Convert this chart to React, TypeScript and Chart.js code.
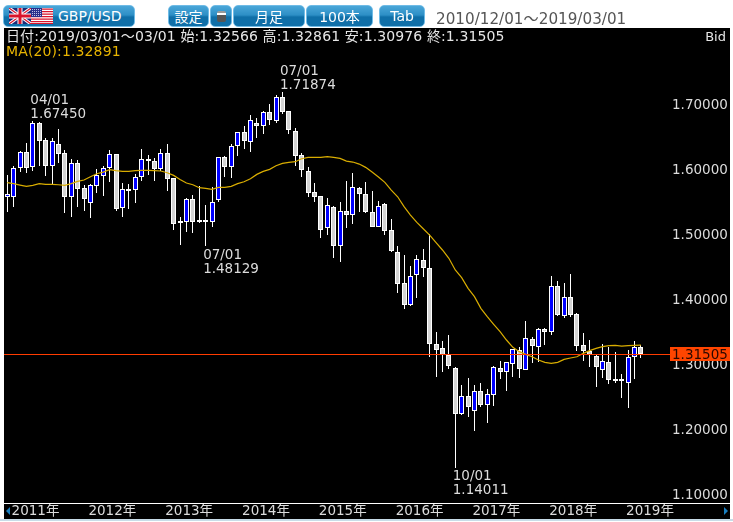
import React, { useEffect, useRef } from "react";
import { Chart, registerables } from "chart.js";

Chart.register(...registerables);

const FONT = '"DejaVu Sans","Noto Sans CJK JP",sans-serif';

const opens = [1.5563,1.5563,1.6010,1.6256,1.6025,1.6702,1.6440,1.6051,1.6379,1.6240,1.5563,1.6086,1.5707,1.5481,1.5743,1.5897,1.6010,1.6225,1.5394,1.5691,1.5671,1.5871,1.6153,1.6117,1.6004,1.6240,1.5856,1.5163,1.5189,1.5532,1.5209,1.5209,1.5189,1.5517,1.6179,1.6025,1.6358,1.6569,1.6410,1.6702,1.6656,1.6871,1.6743,1.7107,1.6887,1.6584,1.6210,1.5963,1.5640,1.5579,1.5086,1.5409,1.4809,1.5348,1.5286,1.5702,1.5610,1.5332,1.5112,1.5456,1.5055,1.4717,1.4240,1.3912,1.4363,1.4594,1.4471,1.3301,1.3240,1.3137,1.2932,1.2234,1.2501,1.2270,1.2578,1.2373,1.2527,1.2932,1.2881,1.3004,1.3209,1.2912,1.3379,1.3266,1.3533,1.3497,1.4195,1.3743,1.4025,1.3764,1.3287,1.3205,1.3123,1.2912,1.3025,1.2769,1.2769,1.2712,1.3102,1.32566];
const highs = [1.5907,1.6051,1.6281,1.6394,1.6745,1.6728,1.6482,1.6471,1.6610,1.6292,1.6158,1.6138,1.5753,1.5768,1.5994,1.6045,1.6297,1.6235,1.5779,1.5763,1.5922,1.6302,1.6210,1.6174,1.6302,1.6379,1.5861,1.5255,1.5558,1.5599,1.5743,1.5440,1.5717,1.6179,1.6199,1.6379,1.6574,1.6666,1.6825,1.6779,1.6897,1.7000,1.7138,1.71874,1.6892,1.6635,1.6251,1.6025,1.5779,1.5584,1.5548,1.5430,1.5497,1.5809,1.5933,1.5727,1.5804,1.5656,1.5502,1.5481,1.5235,1.4815,1.4671,1.4512,1.4676,1.4763,1.5000,1.3486,1.3358,1.3440,1.2958,1.2676,1.2778,1.2676,1.2701,1.2609,1.2968,1.3045,1.3030,1.3230,1.3265,1.3655,1.3410,1.3548,1.3548,1.4354,1.4277,1.4241,1.4385,1.3789,1.3471,1.3369,1.3138,1.3302,1.3256,1.3179,1.2846,1.3215,1.3353,1.32861];
const lows = [1.5343,1.5409,1.5958,1.5933,1.5963,1.6051,1.5897,1.5768,1.6097,1.5327,1.5266,1.5420,1.5358,1.5240,1.5635,1.5589,1.5804,1.5358,1.5266,1.5384,1.5481,1.5820,1.5912,1.5820,1.5974,1.5666,1.5066,1.4830,1.5035,1.5009,1.5163,1.48129,1.5102,1.5497,1.5881,1.5856,1.6199,1.6302,1.6256,1.6471,1.6533,1.6676,1.6702,1.6846,1.6533,1.6051,1.5871,1.5573,1.5486,1.4943,1.4978,1.4635,1.4563,1.5086,1.5158,1.5343,1.5317,1.5102,1.5102,1.4984,1.4727,1.4086,1.3840,1.3891,1.4009,1.4333,1.3112,1.2794,1.2870,1.2917,1.14011,1.2209,1.2188,1.1973,1.2332,1.2096,1.2357,1.2763,1.2588,1.2804,1.2778,1.2901,1.3020,1.3035,1.3292,1.3451,1.3738,1.3713,1.3718,1.3205,1.3051,1.2958,1.2651,1.2779,1.2687,1.2712,1.2471,1.2327,1.2774,1.30976];
const closes = [1.5610,1.6010,1.6256,1.6020,1.6702,1.6435,1.6051,1.6425,1.6235,1.5573,1.6086,1.5697,1.5543,1.5748,1.5902,1.6010,1.6225,1.5389,1.5686,1.5666,1.5871,1.6148,1.6122,1.6004,1.6240,1.5851,1.5158,1.5194,1.5532,1.5189,1.5184,1.5199,1.5486,1.6179,1.6035,1.6348,1.6564,1.6435,1.6748,1.6656,1.6871,1.6759,1.7102,1.6882,1.6605,1.6204,1.5989,1.5635,1.5573,1.5066,1.5440,1.4819,1.5348,1.5286,1.5717,1.5620,1.5343,1.5112,1.5425,1.5050,1.4742,1.4235,1.3912,1.4358,1.4610,1.4481,1.3307,1.3219,1.3137,1.2973,1.2234,1.2501,1.2332,1.2578,1.2363,1.2532,1.2947,1.2881,1.3025,1.3225,1.2927,1.3394,1.3276,1.3533,1.3492,1.4195,1.3759,1.4025,1.3754,1.3282,1.3200,1.3133,1.2958,1.3040,1.2758,1.2748,1.2748,1.3102,1.3256,1.31505];
const ma20 = [1.5789,1.5774,1.5753,1.5733,1.5748,1.5774,1.5763,1.5763,1.5758,1.5748,1.5774,1.5809,1.5830,1.5881,1.5927,1.5953,1.5989,1.5974,1.5963,1.5963,1.5974,1.5979,1.5979,1.5974,1.5969,1.5943,1.5902,1.5840,1.5784,1.5758,1.5712,1.5702,1.5686,1.5717,1.5717,1.5733,1.5774,1.5804,1.5851,1.5917,1.5963,1.5994,1.6051,1.6086,1.6102,1.6112,1.6158,1.6179,1.6179,1.6179,1.6189,1.6179,1.6163,1.6122,1.6107,1.6076,1.6025,1.5953,1.5876,1.5794,1.5676,1.5573,1.5420,1.5291,1.5178,1.5081,1.4984,1.4867,1.4754,1.4626,1.4446,1.4328,1.4164,1.4036,1.3856,1.3728,1.3610,1.3497,1.3369,1.3256,1.3190,1.3148,1.3112,1.3061,1.3025,1.3010,1.3025,1.3071,1.3092,1.3112,1.3164,1.3205,1.3241,1.3266,1.3282,1.3287,1.3276,1.3282,1.3287,1.32891];

const START_YEAR = 2010;
const START_MONTH = 12;
const BLANK_SLOTS = 4;
const months = opens.map((_, i) => {
  const m = START_MONTH - 1 + i;
  return `${START_YEAR + Math.floor(m / 12)}/${String((m % 12) + 1).padStart(2, "0")}`;
});
const categories = [...months, ...Array(BLANK_SLOTS).fill("")];

// extreme callouts: [category, label, value, "high"|"low"]
const callouts: [string, string, number, "high" | "low"][] = [
  ["2011/04", "04/01", 1.6745, "high"],
  ["2014/07", "07/01", 1.71874, "high"],
  ["2013/07", "07/01", 1.48129, "low"],
  ["2016/10", "10/01", 1.14011, "low"],
];

const BLUE = "#0000ff";
const GREY = "#d4d4d4";
const last = closes[closes.length - 1];

const candleSnap = {
  id: "candleSnap",
  beforeDatasetsDraw(chart: any) {
    chart.getSortedVisibleDatasetMetas().forEach((m: any) => {
      if (m.type !== "bar") return;
      const isBody = m.index === 1;
      m.data.forEach((el: any) => {
        const t = Math.round(Math.min(el.y, el.base));
        let b = Math.round(Math.max(el.y, el.base));
        if (isBody && b - t < 2) b = t + 2;
        el.x = Math.floor(el.x) + 0.5;
        el.y = t;
        el.base = b;
        el.height = b - t;
      });
    });
  },
};

const panel = {
  id: "panel",
  beforeDraw(chart: any) {
    const { ctx } = chart;
    ctx.save();
    ctx.fillStyle = "#000";
    ctx.fillRect(0, 0, chart.width, chart.height);
    ctx.restore();
  },
  afterDatasetsDraw(chart: any) {
    const { ctx, chartArea: a, scales } = chart;
    const py0 = scales.y.getPixelForValue(last);
    const y = Math.floor(py0);
    ctx.save();
    const boxLeft = a.right + 0.3;
    ctx.fillStyle = "#ff3c00";
    ctx.fillRect(0, y, boxLeft, 1);

    ctx.fillStyle = "#ff4500";
    ctx.fillRect(boxLeft, y - 7, chart.width - boxLeft, 14);
    ctx.font = `13.5px ${FONT}`;
    ctx.textBaseline = "middle";
    ctx.textAlign = "left";
    ctx.fillStyle = "#2a0800";
    ctx.fillText(last.toFixed(5), boxLeft + 2, y + 1.5);

    ctx.fillStyle = "#dcdcdc";
    callouts.forEach(([cat, label, value, kind]) => {
      const x = scales.x.getPixelForValue(categories.indexOf(cat)) - 2.5;
      const py = scales.y.getPixelForValue(value);
      const l1 = kind === "high" ? py - 20 : py + 9;
      ctx.fillText(label, x, l1);
      ctx.fillText(value.toFixed(5), x, l1 + 14);
    });
    ctx.restore();
  },
};

const buttonStyle: React.CSSProperties = {
  position: "absolute",
  top: 5,
  height: 22,
  boxSizing: "border-box",
  borderRadius: 5,
  border: "1px solid #6fbbe6",
  background: "linear-gradient(#4aa6d8 0%,#2d8fc6 45%,#0f6fa8 55%,#0f6fa8 100%)",
  color: "#fff",
  font: `14px ${FONT}`,
  display: "flex",
  alignItems: "center",
  justifyContent: "center",
  whiteSpace: "nowrap",
};

function Btn({ left, width, children, style }: any) {
  return <div style={{ ...buttonStyle, left, width, ...style }}>{children}</div>;
}

// nudges the y tick labels down so that their digits sit on the tick value
function nudgeLabels(s: any, dy: number) {
  if (s.__nudged) return;
  s.__nudged = true;
  const orig = s._computeLabelItems.bind(s);
  s._computeLabelItems = (ca: any) => orig(ca).map((it: any) => ({ ...it, textOffset: it.textOffset + dy }));
}

export default function App() {
  const ref = useRef<HTMLCanvasElement>(null);
  useEffect(() => {
    const chart = new Chart(ref.current!, {
      type: "bar",
      data: {
        labels: categories,
        datasets: [
          {
            type: "line",
            label: "MA(20)",
            data: ma20,
            borderColor: "#d9ad00",
            borderWidth: 1.2,
            pointRadius: 0,
            tension: 0,
            order: 0,
          },
          {
            label: "body",
            data: opens.map((o, i) => [o, closes[i]]),
            backgroundColor: opens.map((o, i) => (closes[i] > o ? BLUE : GREY)),
            borderColor: "#ffffff",
            borderWidth: 1,
            borderSkipped: false,
            inflateAmount: 0,
            barThickness: 5,
            grouped: false,
            order: 1,
          },
          {
            label: "wick",
            data: lows.map((l, i) => [l, highs[i]]),
            backgroundColor: "#ffffff",
            borderWidth: 0,
            inflateAmount: 0,
            barThickness: 1,
            grouped: false,
            order: 2,
          },
        ] as any,
      },
      options: {
        animation: false,
        responsive: false,
        layout: { padding: 0 },
        plugins: { legend: { display: false }, tooltip: { enabled: false } },
        scales: {
          x: {
            type: "category",
            offset: true,
            grid: { display: false, drawTicks: false },
            border: { display: false },
            afterFit(s: any) {
              s.height = 16.5;
              s.paddingLeft = 0;
              s.paddingRight = 0;
            },
            ticks: {
              autoSkip: false,
              maxRotation: 0,
              minRotation: 0,
              align: "start",
              padding: 1,
              labelOffset: -2,
              color: "#dcdcdc",
              font: { family: FONT, size: 13.5 },
              callback(v: any) {
                const c = categories[v as number];
                return c && c.endsWith("/01") ? `${c.slice(0, 4)}年` : "";
              },
            },
          },
          y: {
            type: "linear",
            position: "right",
            min: 1.08692,
            max: 1.81692,
            grid: { display: false, drawTicks: false },
            border: { display: false },
            afterFit(s: any) {
              s.width = 60.3;
              s.paddingTop = 0;
              s.paddingBottom = 0;
              nudgeLabels(s, 2);
            },
            ticks: {
              stepSize: 0.1,
              includeBounds: false,
              padding: 2.3,
              color: "#dcdcdc",
              font: { family: FONT, size: 13.5 },
              callback(v: any) {
                return v > 1.75 ? "" : Number(v).toFixed(5);
              },
            },
          },
        },
      } as any,
      plugins: [candleSnap, panel],
    });
    return () => chart.destroy();
  }, []);

  return (
    <div style={{ position: "absolute", left: 0, top: 0, width: 733, height: 522, overflow: "hidden", background: "#fff", font: `13px ${FONT}` }}>
      <canvas ref={ref} width={726} height={491} style={{ position: "absolute", left: 4, top: 28, width: 726, height: 491 }} />

      <Btn left={3} width={132} style={{ justifyContent: "flex-start", paddingLeft: 54 }}>GBP/USD</Btn>
      <svg style={{ position: "absolute", left: 9, top: 8 }} width={44} height={16} viewBox="0 0 44 16">
        <rect width="22" height="16" fill="#1c2a78" />
        <path d="M0 0L22 16M22 0L0 16" stroke="#fff" strokeWidth="3.2" />
        <path d="M0 0L22 16M22 0L0 16" stroke="#d8142c" strokeWidth="1.2" />
        <path d="M11 0V16M0 8H22" stroke="#fff" strokeWidth="5" />
        <path d="M11 0V16M0 8H22" stroke="#d8142c" strokeWidth="3" />
        <rect x="22" width="22" height="16" fill="#fff" />
        <path d="M22 1H44M22 3.5H44M22 6H44M22 8.5H44M22 11H44M22 13.5H44M22 15.5H44" stroke="#d8142c" strokeWidth="1.25" />
        <rect x="22" width="11" height="9" fill="#2a2f8c" />
        <path d="M23 1.5H32M23 3.5H32M23 5.5H32M23 7.5H32" stroke="#cfd2ee" strokeWidth="0.9" strokeDasharray="1 1" />
      </svg>
      <Btn left={168} width={41}>設定</Btn>
      <Btn left={210} width={22}>
        <div style={{ width: 9, height: 11, borderRadius: 2, background: "linear-gradient(#999 0 20%,#fff 20% 35%,#555 35%)" }} />
      </Btn>
      <Btn left={233} width={72}>月足</Btn>
      <Btn left={306} width={67}>100本</Btn>
      <Btn left={379} width={46}>Tab</Btn>
      <div style={{ position: "absolute", left: 436, top: 6, color: "#555", font: `15.2px ${FONT}`, whiteSpace: "nowrap" }}>2010/12/01～2019/03/01</div>

      <div style={{ position: "absolute", left: 6, top: 28, color: "#e6e6e6", font: `14px/16px ${FONT}`, letterSpacing: 0.11, whiteSpace: "nowrap" }}>日付:2019/03/01～03/01 始:1.32566 高:1.32861 安:1.30976 終:1.31505</div>
      <div style={{ position: "absolute", left: 6, top: 43, color: "#e8b400", font: `14px/16px ${FONT}`, letterSpacing: 0.12, whiteSpace: "nowrap" }}>MA(20):1.32891</div>
      <div style={{ position: "absolute", right: 7, top: 29, color: "#e6e6e6", font: `13px/16px ${FONT}` }}>Bid</div>

      <div style={{ position: "absolute", left: 4, top: 503, width: 726, height: 1, background: "#fff" }} />
      <div style={{ position: "absolute", left: 6, top: 507, width: 0, height: 0, borderTop: "4px solid transparent", borderBottom: "4px solid transparent", borderRight: "4px solid #1a7fc0" }} />
      <div style={{ position: "absolute", left: 724, top: 507, width: 0, height: 0, borderTop: "4px solid transparent", borderBottom: "4px solid transparent", borderLeft: "4px solid #1a7fc0" }} />
      <div style={{ position: "absolute", left: 0, top: 519, width: 733, height: 2, background: "#c8dce8" }} />
    </div>
  );
}
